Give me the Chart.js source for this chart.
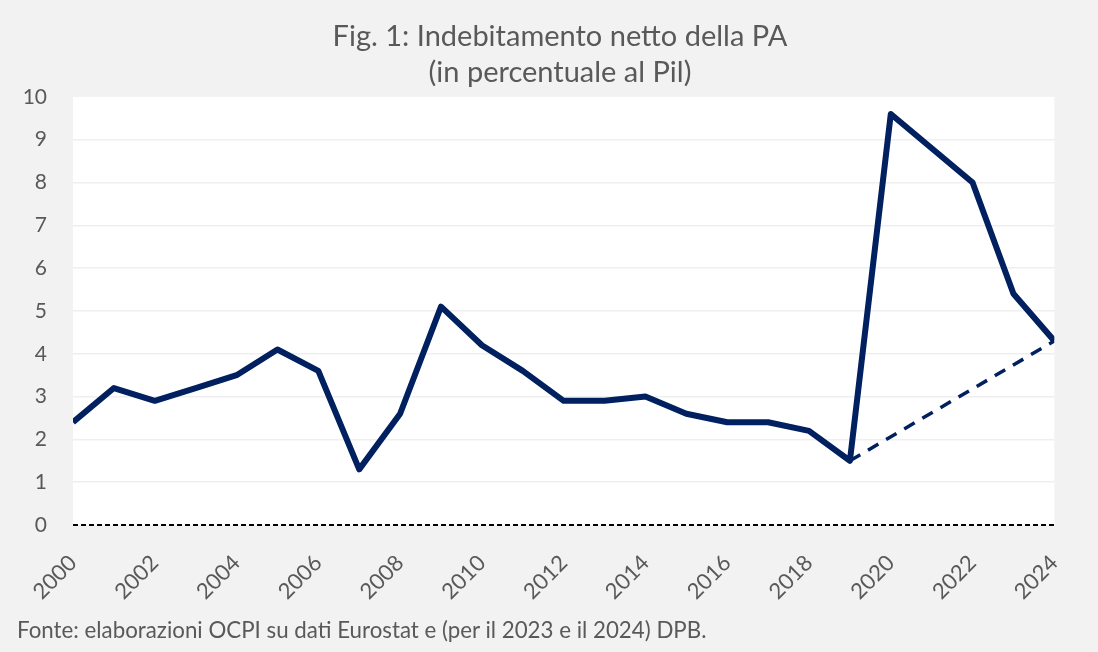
<!DOCTYPE html>
<html>
<head>
<meta charset="utf-8">
<script src="https://cdn.jsdelivr.net/npm/chart.js@4/dist/chart.umd.min.js"></script>
<style>
  html, body { margin: 0; padding: 0; background: #f2f2f2; }
  #wrap { position: relative; width: 1098px; height: 652px; }
  #source { position: absolute; left: 17px; top: 617px; font-family: Lato, "Open Sans", sans-serif; font-size: 22.3px; color: #595959; white-space: nowrap; line-height: 26px; }
</style>
</head>
<body>
<div id="wrap">
  <canvas id="c" width="1098" height="652"></canvas>
  <div id="source"></div>
</div>
<script>
const years = ['2000','2001','2002','2003','2004','2005','2006','2007','2008','2009','2010','2011','2012','2013','2014','2015','2016','2017','2018','2019','2020','2021','2022','2023','2024'];
const deficit = [2.4, 3.2, 2.9, 3.2, 3.5, 4.1, 3.6, 1.3, 2.6, 5.1, 4.2, 3.6, 2.9, 2.9, 3.0, 2.6, 2.4, 2.4, 2.2, 1.5, 9.6, 8.8, 8.0, 5.4, 4.3];
const trend = [null, null, null, null, null, null, null, null, null, null, null, null, null, null, null, null, null, null, null, 1.5, null, null, null, null, 4.3];
const yTicks = [0, 1, 2, 3, 4, 5, 6, 7, 8, 9, 10];
const titleLines = ['Fig. 1: Indebitamento netto della PA', '(in percentuale al Pil)'];
const sourceText = 'Fonte: elaborazioni OCPI su dati Eurostat e (per il 2023 e il 2024) DPB.';

document.getElementById('source').textContent = sourceText;

const FONT = 'Lato, "Open Sans", sans-serif';
const TXT = '#595959';
const NAVY = '#002060';

const bgPlugin = {
  id: 'bg',
  afterLayout(chart) {
    // centre the title over the plot area, as in the reference
    if (chart.titleBlock) { chart.titleBlock.left = 62; }
  },
  beforeDraw(chart) {
    const { ctx, chartArea: a } = chart;
    ctx.save();
    ctx.fillStyle = '#f2f2f2';
    ctx.fillRect(0, 0, chart.width, chart.height);
    ctx.fillStyle = '#ffffff';
    ctx.fillRect(a.left, a.top, a.right - a.left, a.bottom - a.top);
    ctx.restore();
  }
};

new Chart(document.getElementById('c'), {
  type: 'line',
  data: {
    labels: years,
    datasets: [
      {
        data: deficit,
        borderColor: NAVY,
        borderWidth: 6,
        pointRadius: 0,
        tension: 0,
        borderJoinStyle: 'round',
        clip: 0
      },
      {
        data: trend,
        borderColor: NAVY,
        borderWidth: 3.5,
        borderDash: [12, 9],
        pointRadius: 0,
        tension: 0,
        spanGaps: true,
        clip: 0
      }
    ]
  },
  plugins: [bgPlugin],
  options: {
    responsive: false,
    animation: false,
    layout: { padding: { left: 17, right: 40, top: 0, bottom: 37 } },
    plugins: {
      legend: { display: false },
      tooltip: { enabled: false },
      title: {
        display: true,
        text: titleLines,
        color: TXT,
        font: { family: FONT, size: 29, weight: 'normal', lineHeight: 1.24 },
        padding: { top: 19, bottom: 6 }
      }
    },
    scales: {
      x: {
        type: 'category',
        offset: false,
        grid: { display: false, drawTicks: false },
        border: { display: false },
        ticks: {
          color: TXT,
          font: { family: FONT, size: 22 },
          autoSkip: false,
          maxRotation: 45,
          minRotation: 45,
          padding: 25,
          callback: function (v, i) { return i % 2 === 0 ? years[i] : ''; }
        },
        afterFit(scale) { scale.height = 90; }
      },
      y: {
        min: 0,
        max: 10,
        afterBuildTicks(scale) { scale.ticks = yTicks.map(v => ({ value: v })); },
        grid: {
          drawTicks: false,
          lineWidth: (c) => (c.tick && c.tick.value === 0) ? 2 : 1.5,
          color: (c) => {
            if (!c.tick) return '#efefef';
            if (c.tick.value === 0) return '#000000';
            if (c.tick.value === 10) return 'rgba(0,0,0,0)';
            return '#efefef';
          }
        },
        border: {
          display: false,
          dash: (c) => (c.tick && c.tick.value === 0) ? [5, 3] : []
        },
        ticks: {
          color: TXT,
          font: { family: FONT, size: 21 },
          padding: 26
        },
        afterFit(scale) { scale.width = 56; }
      }
    }
  }
});
</script>
</body>
</html>
